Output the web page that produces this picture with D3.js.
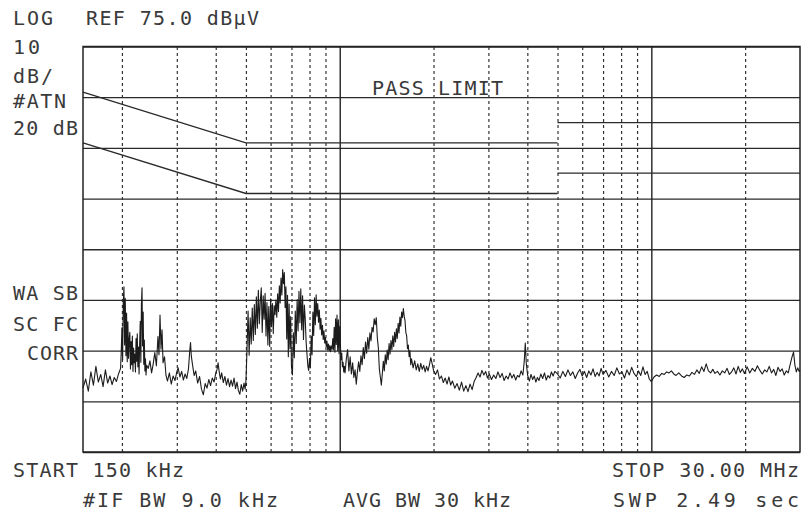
<!DOCTYPE html>
<html>
<head>
<meta charset="utf-8">
<script src="https://cdn.jsdelivr.net/npm/d3@7"></script>
<style>
  body { margin: 0; background: #fff; }
  svg text {
    font-family: "DejaVu Sans Mono", "Liberation Mono", monospace;
    font-size: 20px;
    fill: #3a3a3a;
  }
</style>
</head>
<body>
<div id="vis"></div>
<script>
// sweep / display settings of the analyzer
var startMHz = 0.15;
var stopMHz = 30;
var refLevel = 75;      // dBuV at the top graticule line
var dbPerDiv = 10;
var divisions = 8;

// graticule
var levelTicks = [75, 65, 55, 45, 35, 25, 15, 5, -5];
var minorFreqs = [0.2, 0.3, 0.4, 0.5, 0.6, 0.7, 0.8, 0.9,
                  2, 3, 4, 5, 6, 7, 8, 9, 20];
var decadeFreqs = [1, 10];

// limit lines [MHz, dBuV], one array per drawn segment
var quasiPeakLimit = [
  [[0.15, 66], [0.5, 56], [5, 56]],
  [[5, 60], [30, 60]]
];
var averageLimit = [
  [[0.15, 56], [0.5, 46], [5, 46]],
  [[5, 50], [30, 50]]
];

var trace = [
  [0.150, 7.6], [0.153, 9.4], [0.156, 7.0], [0.159, 10.8], [0.162, 8.2], [0.165, 11.9],
  [0.168, 8.8], [0.171, 10.3], [0.174, 7.9], [0.177, 11.2], [0.180, 8.6], [0.183, 10.0],
  [0.186, 8.3], [0.189, 9.7], [0.192, 8.9], [0.195, 10.4], [0.198, 11.5],
  [0.199, 14.8], [0.200, 19.5], [0.201, 13.2], [0.202, 24.6], [0.203, 27.6], [0.204, 16.1],
  [0.205, 25.3], [0.206, 14.0], [0.207, 22.4], [0.208, 12.8], [0.209, 20.7], [0.210, 13.5],
  [0.211, 17.2], [0.212, 18.6], [0.213, 11.4], [0.214, 16.8], [0.215, 12.2], [0.216, 17.9],
  [0.217, 10.9], [0.218, 15.5], [0.219, 12.6], [0.220, 14.3], [0.221, 10.8], [0.222, 17.4],
  [0.223, 12.9], [0.224, 18.3], [0.225, 11.8], [0.226, 15.7], [0.227, 10.4], [0.228, 16.5],
  [0.229, 20.8], [0.230, 12.7], [0.231, 24.2], [0.232, 27.4], [0.233, 15.9], [0.234, 22.6],
  [0.235, 12.3], [0.236, 17.1], [0.237, 11.0], [0.238, 13.4], [0.239, 10.2], [0.240, 12.1],
  [0.243, 11.5], [0.246, 13.0], [0.249, 10.6], [0.252, 12.4], [0.255, 14.6], [0.258, 12.0],
  [0.261, 17.8], [0.263, 14.2], [0.265, 22.0], [0.267, 15.3], [0.269, 19.1], [0.271, 12.6],
  [0.274, 13.8], [0.277, 10.1], [0.280, 9.0], [0.284, 10.6], [0.288, 8.4], [0.292, 10.0],
  [0.296, 9.1], [0.300, 10.8],
  [0.303, 11.6], [0.307, 9.8], [0.311, 10.9], [0.315, 9.2], [0.319, 10.4], [0.323, 9.5],
  [0.327, 11.4], [0.330, 14.8], [0.332, 16.6], [0.334, 13.9], [0.337, 12.2], [0.341, 10.1],
  [0.345, 11.0], [0.350, 8.6], [0.355, 9.9], [0.360, 7.4], [0.365, 6.3], [0.370, 8.5],
  [0.375, 7.6], [0.380, 9.3], [0.385, 8.1], [0.390, 9.6], [0.395, 8.8], [0.400, 10.5],
  [0.404, 11.3], [0.407, 12.6], [0.410, 11.0], [0.414, 9.4], [0.418, 10.6], [0.423, 8.7],
  [0.428, 9.9], [0.433, 8.2], [0.438, 9.5], [0.443, 7.9], [0.448, 9.2], [0.453, 8.0],
  [0.458, 9.6], [0.463, 7.5], [0.468, 8.8], [0.473, 7.1], [0.478, 6.4], [0.483, 8.3],
  [0.488, 7.0], [0.493, 8.6], [0.497, 7.4], [0.500, 9.0],
  [0.504, 15.2], [0.508, 22.8], [0.512, 14.1], [0.516, 21.5], [0.520, 16.3], [0.524, 23.4],
  [0.528, 17.0], [0.532, 24.1], [0.536, 18.2], [0.540, 25.6], [0.544, 19.4], [0.548, 26.9],
  [0.552, 20.3], [0.556, 24.7], [0.560, 27.4], [0.564, 18.6], [0.568, 25.8], [0.572, 21.2],
  [0.576, 26.3], [0.580, 17.9], [0.584, 24.5], [0.588, 16.1], [0.592, 23.7], [0.596, 15.8],
  [0.600, 25.2], [0.604, 19.7], [0.608, 24.3], [0.612, 18.4], [0.616, 23.9], [0.620, 22.1],
  [0.624, 25.0], [0.628, 21.6], [0.632, 26.2], [0.636, 22.7], [0.640, 27.8], [0.644, 24.4],
  [0.648, 29.3], [0.652, 26.0], [0.656, 31.0], [0.660, 28.2], [0.664, 30.4], [0.668, 23.5],
  [0.672, 27.6], [0.676, 17.3], [0.680, 25.9], [0.684, 13.8], [0.688, 24.2], [0.692, 15.4],
  [0.696, 21.7], [0.700, 11.9],
  [0.705, 10.2], [0.710, 18.5], [0.715, 13.6], [0.720, 22.8], [0.725, 16.4], [0.730, 25.1],
  [0.735, 18.9], [0.740, 26.7], [0.745, 20.5], [0.750, 27.2], [0.755, 19.1], [0.760, 25.8],
  [0.765, 17.2], [0.770, 24.0], [0.775, 21.3], [0.780, 16.8], [0.785, 14.3], [0.790, 12.0],
  [0.795, 11.1], [0.800, 13.5], [0.805, 11.6], [0.810, 17.9], [0.815, 14.2], [0.820, 22.6],
  [0.825, 18.0], [0.830, 25.4], [0.835, 20.1], [0.840, 26.0], [0.845, 21.8], [0.850, 24.3],
  [0.855, 20.6], [0.860, 23.0], [0.865, 19.2], [0.870, 21.4], [0.875, 18.1], [0.880, 20.0],
  [0.885, 17.2], [0.890, 18.9], [0.895, 16.5], [0.900, 17.6], [0.905, 15.8], [0.910, 16.9],
  [0.915, 15.1], [0.920, 16.3], [0.925, 15.0], [0.930, 16.0], [0.935, 14.8], [0.940, 15.9],
  [0.945, 15.3], [0.950, 17.4], [0.955, 15.2], [0.960, 19.6], [0.965, 14.7], [0.970, 21.3],
  [0.975, 16.2], [0.980, 22.0], [0.985, 15.0], [0.990, 21.1], [0.995, 14.4], [1.000, 19.8],
  [1.005, 16.0], [1.010, 13.2], [1.015, 14.5], [1.020, 11.8], [1.025, 12.7], [1.030, 10.8],
  [1.035, 11.9], [1.040, 10.6],
  [1.050, 13.4], [1.060, 15.2], [1.070, 11.0], [1.080, 13.8], [1.090, 10.4], [1.100, 12.6],
  [1.110, 9.7], [1.120, 11.2], [1.130, 8.4], [1.140, 10.9], [1.150, 12.8], [1.160, 10.9],
  [1.170, 14.0], [1.180, 12.2], [1.190, 15.6], [1.200, 13.4], [1.210, 16.7], [1.220, 14.5],
  [1.230, 17.6], [1.240, 15.3], [1.250, 18.5], [1.260, 16.9], [1.270, 19.6], [1.280, 18.7],
  [1.290, 21.3], [1.300, 20.1], [1.310, 21.5], [1.320, 17.6], [1.330, 15.6], [1.340, 11.4],
  [1.350, 9.8], [1.360, 8.2], [1.370, 10.5], [1.380, 12.9], [1.390, 11.0], [1.400, 14.2],
  [1.410, 12.3], [1.420, 15.1], [1.430, 13.2], [1.440, 16.4], [1.450, 14.3], [1.460, 17.0],
  [1.470, 15.2], [1.480, 17.9], [1.490, 15.8], [1.500, 18.6], [1.510, 16.7], [1.520, 19.3],
  [1.530, 17.4], [1.540, 20.4], [1.550, 18.5], [1.560, 21.6], [1.570, 19.8], [1.580, 22.6],
  [1.590, 21.5], [1.600, 23.3], [1.610, 21.8], [1.620, 20.9], [1.630, 18.6], [1.640, 17.9],
  [1.650, 15.4], [1.660, 16.1], [1.670, 13.8], [1.680, 15.0], [1.690, 12.2], [1.700, 13.4],
  [1.720, 11.6], [1.740, 13.0], [1.760, 11.2], [1.780, 12.4], [1.800, 10.9], [1.820, 12.5],
  [1.840, 11.3], [1.860, 12.1], [1.880, 10.8], [1.900, 11.9], [1.920, 11.0], [1.940, 12.2],
  [1.960, 13.6], [1.980, 12.4], [2.000, 11.1], [2.030, 10.3], [2.060, 11.2], [2.090, 9.4],
  [2.120, 10.0], [2.150, 8.7], [2.180, 9.6], [2.210, 8.4], [2.240, 9.8], [2.270, 8.2],
  [2.300, 9.0], [2.340, 7.6], [2.380, 8.5], [2.420, 7.2], [2.460, 8.8], [2.500, 7.0],
  [2.540, 8.1], [2.580, 6.9], [2.620, 8.4], [2.660, 7.3], [2.700, 8.9], [2.740, 9.7],
  [2.780, 10.6], [2.820, 9.8], [2.860, 11.1], [2.900, 10.2], [2.940, 10.9], [2.980, 9.6],
  [3.020, 10.4], [3.070, 9.3], [3.120, 10.2], [3.170, 9.5], [3.220, 10.8], [3.270, 9.7],
  [3.320, 10.5], [3.370, 9.1], [3.420, 10.0], [3.470, 9.4], [3.520, 10.6], [3.570, 9.6],
  [3.620, 10.3], [3.670, 9.2], [3.720, 10.1], [3.770, 9.8], [3.820, 11.0], [3.870, 10.2],
  [3.910, 12.9], [3.940, 16.5], [3.970, 12.4], [4.010, 10.1], [4.060, 9.0], [4.110, 10.3],
  [4.160, 9.3], [4.210, 10.0], [4.260, 8.8], [4.310, 9.7], [4.360, 9.1], [4.420, 10.4],
  [4.480, 9.5], [4.540, 10.6], [4.600, 9.2], [4.660, 10.1], [4.720, 9.6], [4.780, 10.8],
  [4.840, 10.0], [4.900, 10.9],
  [5.000, 10.4], [5.100, 9.6], [5.200, 10.9], [5.300, 9.9], [5.400, 11.2], [5.500, 10.1],
  [5.600, 10.8], [5.700, 9.5], [5.800, 10.6], [5.900, 11.3], [6.000, 10.0], [6.100, 10.9],
  [6.200, 9.7], [6.300, 11.0], [6.400, 10.2], [6.500, 11.4], [6.600, 9.9], [6.700, 10.7],
  [6.800, 10.0], [6.900, 11.5], [7.000, 10.3], [7.150, 11.1], [7.300, 9.8], [7.450, 10.9],
  [7.600, 10.1], [7.750, 11.6], [7.900, 10.4], [8.050, 10.8], [8.200, 9.6], [8.350, 11.2],
  [8.500, 10.2], [8.650, 11.7], [8.800, 10.5], [8.950, 9.9], [9.100, 11.0], [9.250, 10.1],
  [9.400, 11.8], [9.550, 10.3], [9.700, 10.9], [9.850, 9.4], [10.00, 8.9], [10.20, 9.8],
  [10.40, 10.2], [10.60, 9.9], [10.80, 10.5], [11.00, 10.3], [11.20, 10.8], [11.40, 10.6],
  [11.60, 11.0], [11.80, 10.4], [12.00, 10.1], [12.25, 10.6], [12.50, 10.0], [12.75, 9.7],
  [13.00, 10.2], [13.25, 10.0], [13.50, 10.7], [13.75, 10.3], [14.00, 11.2], [14.25, 10.5],
  [14.50, 11.8], [14.75, 10.9], [15.00, 12.4], [15.25, 11.0], [15.50, 10.6], [15.75, 11.3],
  [16.00, 10.5], [16.30, 10.9], [16.60, 10.2], [16.90, 11.0], [17.20, 10.6], [17.50, 11.5],
  [17.80, 10.3], [18.10, 10.8], [18.40, 11.6], [18.70, 10.4], [19.00, 11.9], [19.30, 10.7],
  [19.60, 11.4], [19.90, 10.5], [20.30, 11.8], [20.70, 10.6], [21.10, 11.5], [21.50, 10.9],
  [21.90, 12.0], [22.30, 11.1], [22.70, 10.4], [23.10, 11.2], [23.50, 10.8], [23.90, 11.9],
  [24.30, 10.6], [24.70, 11.3], [25.10, 10.1], [25.50, 11.7], [25.90, 10.9], [26.30, 11.4],
  [26.70, 10.2], [27.10, 11.0], [27.50, 10.6], [27.90, 12.3], [28.30, 13.8], [28.60, 14.7],
  [28.90, 12.1], [29.20, 10.8], [29.50, 11.6], [29.80, 10.9], [30.00, 11.2]
];

// screen annotations of the analyzer
var headerText = ['LOG', 'REF 75.0 dB\u00B5V'];
var scaleText = ['10', 'dB/', '#ATN', '20 dB'];
var statusText = ['WA SB', 'SC FC', 'CORR'];
var limitText = 'PASS LIMIT';
var footerText = ['START 150 kHz', 'STOP 30.00 MHz', '#IF BW 9.0 kHz', 'AVG BW 30 kHz', 'SWP 2.49  sec'];

// dimension of the page and the graticule
var pageWidth = 802;
var pageHeight = 513;
var margin = {top: 46.5, left: 83, bottom: 61, right: 2};
var width = pageWidth - margin.left - margin.right;
var height = pageHeight - margin.top - margin.bottom;

var x = d3.scaleLog()
  .domain([startMHz, stopMHz])
  .range([0, width]);

var y = d3.scaleLinear()
  .domain([refLevel - dbPerDiv * divisions, refLevel])
  .range([height, 0]);

var svg = d3.select('#vis').append('svg')
  .attr('width', pageWidth)
  .attr('height', pageHeight);

var g = svg.append('g')
  .attr('transform', 'translate(' + margin.left + ',' + margin.top + ')');

// horizontal graticule lines
var levelAxis = d3.axisLeft(y)
  .tickValues(levelTicks)
  .tickSize(-width)
  .tickFormat('');
g.append('g')
  .attr('class', 'grid levels')
  .call(levelAxis)
  .call(function(s) { s.select('.domain').remove(); })
  .selectAll('line')
  .attr('stroke', '#2a2a2a')
  .attr('stroke-width', 1.3);

// dotted frequency lines
var minorAxis = d3.axisBottom(x)
  .tickValues(minorFreqs)
  .tickSize(-height)
  .tickFormat('');
g.append('g')
  .attr('class', 'grid minor')
  .attr('transform', 'translate(0,' + height + ')')
  .call(minorAxis)
  .call(function(s) { s.select('.domain').remove(); })
  .selectAll('line')
  .attr('stroke', '#333')
  .attr('stroke-width', 1.2)
  .attr('stroke-dasharray', '3,3');

// solid decade lines
var decadeAxis = d3.axisBottom(x)
  .tickValues(decadeFreqs)
  .tickSize(-height)
  .tickFormat('');
g.append('g')
  .attr('class', 'grid decade')
  .attr('transform', 'translate(0,' + height + ')')
  .call(decadeAxis)
  .call(function(s) { s.select('.domain').remove(); })
  .selectAll('line')
  .attr('stroke', '#222')
  .attr('stroke-width', 1.4);

// frame
g.append('rect')
  .attr('width', width)
  .attr('height', height)
  .attr('fill', 'none')
  .attr('stroke', '#222')
  .attr('stroke-width', 1.5);

var line = d3.line()
  .x(function(d) { return x(d[0]); })
  .y(function(d) { return y(d[1]); });

// limit lines
g.selectAll('.limit')
  .data(quasiPeakLimit.concat(averageLimit))
  .enter().append('path')
  .attr('class', 'limit')
  .attr('fill', 'none')
  .attr('stroke', '#2a2a2a')
  .attr('stroke-width', 1.3)
  .attr('d', line);

// measured trace
g.append('path')
  .datum(trace)
  .attr('class', 'trace')
  .attr('fill', 'none')
  .attr('stroke', '#1c1c1c')
  .attr('stroke-width', 1.1)
  .attr('stroke-linejoin', 'round')
  .attr('d', line);

// text helper, fits the string to the width it has on screen
function label(txt, px, py, len) {
  svg.append('text')
    .attr('x', px)
    .attr('y', py)
    .attr('textLength', len)
    .attr('lengthAdjust', 'spacing')
    .text(txt);
}

label(headerText[0], 13, 25, 40);
label(headerText[1], 86, 25, 173);

label(scaleText[0], 13, 54, 27);
label(scaleText[1], 13, 83, 40);
label(scaleText[2], 13, 108, 53);
label(scaleText[3], 13, 135, 65);

label(statusText[0], 13, 300, 65);
label(statusText[1], 13, 331, 65);
label(statusText[2], 27, 360, 51);

label(limitText, 372, 95, 131);

label(footerText[0], 13, 477, 171);
label(footerText[1], 612, 477, 187);
label(footerText[2], 83, 507, 195);
label(footerText[3], 343, 507, 168);
label(footerText[4], 613, 507, 186);
</script>
</body>
</html>
